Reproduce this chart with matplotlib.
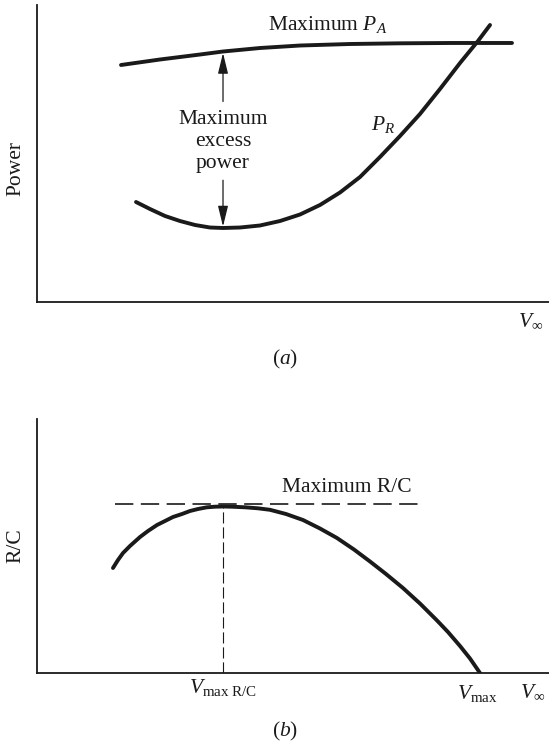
import numpy as np
import matplotlib
matplotlib.use("Agg")
import matplotlib.pyplot as plt

# =========================================
# DATA (arbitrary units 0-100)
# =========================================
# (a) maximum power available
pa_v = [16.41, 24.02, 31.84, 36.33, 43.55, 51.37, 61.13, 70.90, 80.66, 92.77]
pa_p = [79.80, 81.65, 83.33, 84.34, 85.52, 86.36, 86.87, 87.10, 87.21, 87.21]

# (a) power required
pr_v = [19.34, 22.07, 25.00, 27.93, 30.86, 33.79, 36.33, 39.65, 43.55, 47.46,
        51.37, 55.27, 59.18, 63.09, 66.99, 70.90, 74.80, 78.71, 82.62, 86.13,
        88.48]
pr_p = [33.67, 31.31, 28.96, 27.27, 25.93, 25.08, 24.92, 25.08, 25.76, 27.27,
        29.46, 32.66, 36.87, 42.09, 48.82, 55.89, 63.30, 71.72, 80.47, 87.88,
        93.27]

# (b) rate of climb
rc_v = [14.84, 15.82, 16.80, 18.16, 20.12, 21.68, 23.44, 25.00, 26.56, 28.32,
        29.88, 31.45, 33.20, 34.77, 36.33, 38.09, 40.63, 43.16, 45.51, 48.63,
        51.95, 55.27, 58.59, 61.91, 65.04, 68.16, 71.48, 74.80, 78.13, 80.27,
        82.62, 84.57, 86.52]
rc_y = [41.34, 44.49, 47.24, 50.00, 53.54, 55.91, 58.27, 59.84, 61.42, 62.60,
        63.78, 64.57, 65.24, 65.47, 65.55, 65.47, 65.24, 64.84, 64.25, 62.60,
        60.24, 56.89, 53.15, 48.62, 43.90, 38.98, 33.46, 27.36, 20.67, 16.14,
        10.63, 5.71, 0.00]
rc_dash_span = [15.2, 75.4]

# =========================================
# STYLE
# =========================================
plt.rcParams["font.family"] = ["Liberation Serif", "DejaVu Serif"]
plt.rcParams["mathtext.fontset"] = "custom"
plt.rcParams["mathtext.rm"] = "Liberation Serif"
plt.rcParams["mathtext.it"] = "Liberation Serif:italic"
plt.rcParams["mathtext.bf"] = "Liberation Serif:bold"

W, H = 549, 744
fs = 15.5
ink = "#1a1a1a"

fig = plt.figure(figsize=(W / 100, H / 100), dpi=100)
ax_a = fig.add_axes([37 / W, 1 - 302 / H, 512 / W, 297 / H])
ax_b = fig.add_axes([37 / W, 1 - 673 / H, 512 / W, 254 / H])

for ax in (ax_a, ax_b):
    ax.set_xlim(0, 100)
    ax.set_ylim(0, 100)
    ax.set_xticks([])
    ax.set_yticks([])
    for side in ("top", "right"):
        ax.spines[side].set_visible(False)
    for side in ("left", "bottom"):
        ax.spines[side].set_linewidth(1.3)
        ax.spines[side].set_color(ink)

# =========================================
# (a) POWER
# =========================================
ax_a.plot(pa_v, pa_p, color=ink, lw=2.8, solid_capstyle="round")
ax_a.plot(pr_v, pr_p, color=ink, lw=2.8, solid_capstyle="round")

i_min = int(np.argmin(pr_p))
v_min = pr_v[i_min]
pa_at_min = np.interp(v_min, pa_v, pa_p)
txt_y = 54.0

ax_a.text(v_min, txt_y, "Maximum\nexcess\npower", ha="center", va="center",
          fontsize=fs, linespacing=1.22, color=ink)
arrow = dict(arrowstyle="-|>,head_length=0.9,head_width=0.22", lw=0.9,
             color=ink, shrinkA=0, shrinkB=0, mutation_scale=14)
ax_a.annotate("", xy=(v_min, pa_at_min - 0.5), xytext=(v_min, 67.5),
              arrowprops=arrow)
ax_a.annotate("", xy=(v_min, pr_p[i_min] + 0.5), xytext=(v_min, 41.0),
              arrowprops=arrow)

ax_a.text(56.8, 93.6, r"Maximum $P_A$", ha="center", va="center",
          fontsize=fs, color=ink)
ax_a.text(67.6, 59.6, r"$P_R$", ha="center", va="center", fontsize=fs,
          color=ink)
ax_a.text(-0.042, 0.45, "Power", rotation=90, ha="center", va="center",
          fontsize=fs, color=ink, transform=ax_a.transAxes)
ax_a.text(96.5, -6.7, r"$V_\infty$", ha="center", va="center", fontsize=fs,
          color=ink, clip_on=False)
ax_a.text(48.4, -19.5, r"$(a)$", ha="center", va="center", fontsize=fs,
          color=ink, clip_on=False)

# =========================================
# (b) RATE OF CLIMB
# =========================================
ax_b.plot(rc_v, rc_y, color=ink, lw=2.8, solid_capstyle="round")

i_max = int(np.argmax(rc_y))
v_best = rc_v[i_max]
rc_max = rc_y[i_max]
ax_b.plot(rc_dash_span, [rc_max + 0.8] * 2, color=ink, lw=1.2,
          dashes=(11, 4.5))
ax_b.plot([v_best, v_best], [0, rc_max], color=ink, lw=0.8,
          dashes=(10, 3.5))

ax_b.text(60.5, 73.2, "Maximum R/C", ha="center", va="center", fontsize=fs,
          color=ink)
ax_b.text(-0.042, 0.5, "R/C", rotation=90, ha="center", va="center",
          fontsize=fs, color=ink, transform=ax_b.transAxes)
ax_b.text(v_best, -5.8, r"$V_{\mathrm{max\ R/C}}$", ha="center", va="center",
          fontsize=fs, color=ink, clip_on=False)
ax_b.text(rc_v[-1] - 0.5, -7.9, r"$V_{\mathrm{max}}$", ha="center",
          va="center", fontsize=fs, color=ink, clip_on=False)
ax_b.text(96.9, -7.9, r"$V_\infty$", ha="center", va="center", fontsize=fs,
          color=ink, clip_on=False)
ax_b.text(48.4, -23.2, r"$(b)$", ha="center", va="center", fontsize=fs,
          color=ink, clip_on=False)

fig.savefig("out.png", dpi=100, facecolor="white")
plt.close(fig)
